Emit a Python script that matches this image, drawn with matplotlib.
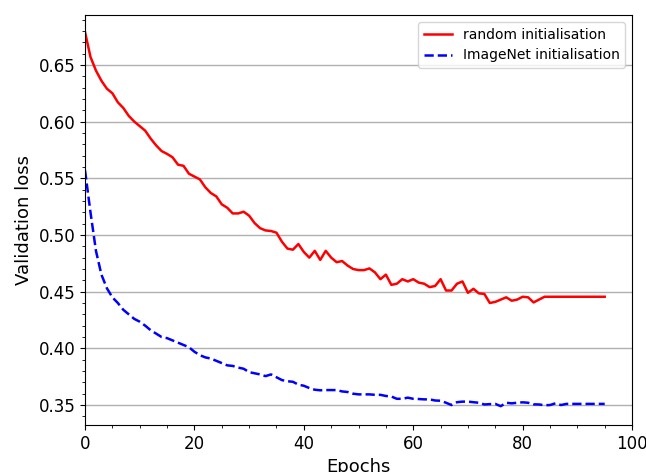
import numpy as np
import matplotlib
matplotlib.use("Agg")
import matplotlib.pyplot as plt
from matplotlib.ticker import MultipleLocator, FormatStrFormatter

# validation loss per epoch
epochs = np.arange(96)

random_init = [
    0.679, 0.657, 0.645, 0.636, 0.629, 0.625, 0.617, 0.612, 0.605, 0.600,
    0.596, 0.592, 0.585, 0.579, 0.574, 0.5715, 0.5685, 0.562, 0.561, 0.554,
    0.5515, 0.549, 0.542, 0.537, 0.534, 0.527, 0.524, 0.519, 0.519, 0.5205,
    0.517, 0.5105, 0.506, 0.504, 0.5035, 0.502, 0.494, 0.488, 0.487, 0.492,
    0.485, 0.480, 0.486, 0.478, 0.486, 0.480, 0.476, 0.477, 0.473, 0.470,
    0.469, 0.469, 0.4705, 0.467, 0.461, 0.465, 0.456, 0.457, 0.461, 0.459,
    0.461, 0.458, 0.457, 0.454, 0.455, 0.461, 0.451, 0.451, 0.457, 0.459,
    0.449, 0.4525, 0.4485, 0.448, 0.440, 0.441, 0.443, 0.445, 0.442, 0.443,
    0.4455, 0.445, 0.4405, 0.443, 0.4455, 0.4455, 0.4455, 0.4455, 0.4455, 0.4455,
    0.4455, 0.4455, 0.4455, 0.4455, 0.4455, 0.4455,
]

imagenet_init = [
    0.557, 0.520, 0.486, 0.465, 0.453, 0.445, 0.440, 0.434, 0.430, 0.426,
    0.4235, 0.420, 0.416, 0.413, 0.410, 0.409, 0.407, 0.405, 0.403, 0.401,
    0.397, 0.394, 0.392, 0.391, 0.389, 0.387, 0.385, 0.3845, 0.383, 0.382,
    0.379, 0.378, 0.377, 0.3755, 0.377, 0.3745, 0.372, 0.371, 0.3705, 0.368,
    0.367, 0.365, 0.3635, 0.363, 0.3632, 0.3632, 0.3632, 0.362, 0.3615, 0.360,
    0.3594, 0.3594, 0.3594, 0.359, 0.359, 0.358, 0.3575, 0.3555, 0.3555, 0.3565,
    0.3555, 0.3553, 0.355, 0.355, 0.354, 0.3538, 0.352, 0.350, 0.3525, 0.353,
    0.353, 0.3525, 0.352, 0.3505, 0.3508, 0.351, 0.349, 0.352, 0.3515, 0.352,
    0.3524, 0.352, 0.3506, 0.3505, 0.3498, 0.350, 0.3515, 0.350, 0.351, 0.351,
    0.351, 0.351, 0.351, 0.351, 0.351, 0.351,
]

fig = plt.figure(figsize=(6.46, 4.72), dpi=100)
ax = fig.add_axes([0.1316, 0.0996, 0.8468, 0.8686])

ax.plot(epochs, random_init, 'r-', linewidth=1.8, label='random initialisation')
ax.plot(epochs, imagenet_init, 'b--', linewidth=1.8, label='ImageNet initialisation')

ax.set_xlim(0, 100)
ax.set_ylim(0.3324, 0.694)
ax.xaxis.set_major_locator(MultipleLocator(20))
ax.xaxis.set_minor_locator(MultipleLocator(5))
ax.yaxis.set_major_locator(MultipleLocator(0.05))
ax.yaxis.set_minor_locator(MultipleLocator(0.01))
ax.yaxis.set_major_formatter(FormatStrFormatter('%.2f'))
ax.tick_params(labelsize=12)

ax.grid(True, axis='y', which='major', color='#b0b0b0', linewidth=1.0)
ax.set_axisbelow(True)

ax.set_xlabel('Epochs', fontsize=13)
ax.set_ylabel('Validation loss', fontsize=13)
ax.legend(loc='upper right', fontsize=10)

fig.savefig('out.png', dpi=100)
